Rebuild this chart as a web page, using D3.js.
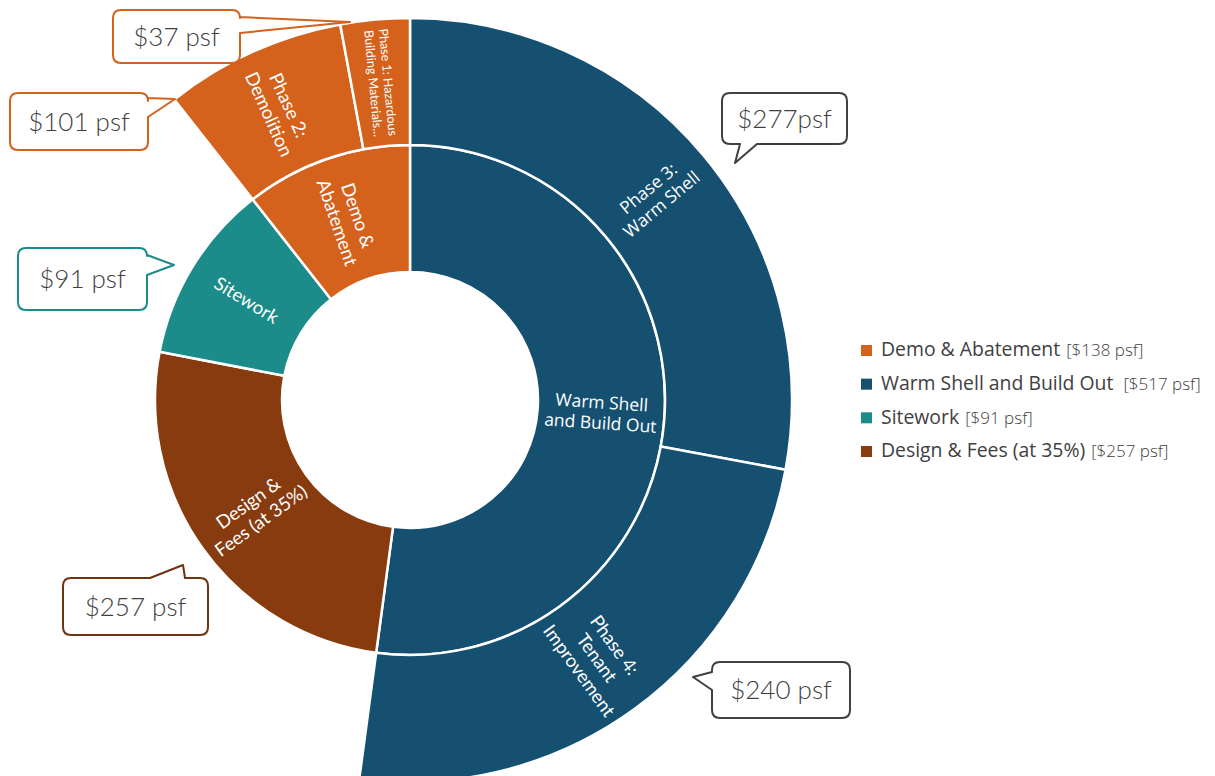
<!DOCTYPE html>
<html>
<head>
<meta charset="utf-8">
<script src="https://cdn.jsdelivr.net/npm/d3@7"></script>
<style>
  html, body { margin: 0; padding: 0; background: #ffffff; }
  svg { display: block; }
</style>
</head>
<body>
<svg id="chart" width="1215" height="776"></svg>
<script>
// ---------------- DATA ----------------
const categories = ["Warm Shell and Build Out", "Design & Fees (at 35%)", "Sitework", "Demo & Abatement"];
// values for categories without sub-phases (read from arc sizes)
const categoryValues = [null, 257, 113, null];
const phases = ["Phase 3: Warm Shell", "Phase 4: Tenant Improvement", "Phase 2: Demolition", "Phase 1: Hazardous Building Materials"];
const phaseParent = ["Warm Shell and Build Out", "Warm Shell and Build Out", "Demo & Abatement", "Demo & Abatement"];
const phaseValues = [277, 240, 76, 29];

// wrapped labels shown inside the arcs
const segmentLabelLines = {
  "Warm Shell and Build Out": ["Warm Shell", "and Build Out"],
  "Design & Fees (at 35%)": ["Design &", "Fees (at 35%)"],
  "Sitework": ["Sitework"],
  "Demo & Abatement": ["Demo &", "Abatement"],
  "Phase 3: Warm Shell": ["Phase 3:", "Warm Shell"],
  "Phase 4: Tenant Improvement": ["Phase 4:", "Tenant", "Improvement"],
  "Phase 2: Demolition": ["Phase 2:", "Demolition"],
  "Phase 1: Hazardous Building Materials": ["Phase 1: Hazardous", "Building Materials..."]
};

// legend
const legendNames = ["Demo & Abatement", "Warm Shell and Build Out", "Sitework", "Design & Fees (at 35%)"];
const legendAmounts = ["[$138 psf]", "[$517 psf]", "[$91 psf]", "[$257 psf]"];

// callout annotations
const calloutTexts = ["$37 psf", "$101 psf", "$277psf", "$91 psf", "$257 psf", "$240 psf"];
const calloutTargets = ["Phase 1: Hazardous Building Materials", "Phase 2: Demolition", "Phase 3: Warm Shell", "Sitework", "Design & Fees (at 35%)", "Phase 4: Tenant Improvement"];

// ---------------- STYLE / LAYOUT ----------------
const W = 1215, H = 776;
const cx = 410, cy = 400;
const colors = {
  "Demo & Abatement": "#d4621d",
  "Warm Shell and Build Out": "#165071",
  "Sitework": "#1b8c89",
  "Design & Fees (at 35%)": "#873b0f"
};
const calloutBorder = {
  "Demo & Abatement": "#d4621d",
  "Warm Shell and Build Out": "#404040",
  "Sitework": "#1b8c89",
  "Design & Fees (at 35%)": "#6e3310"
};
const segoeStyle = new Set(["Warm Shell and Build Out", "Phase 3: Warm Shell"]);
const labelSize = {
  "Phase 1: Hazardous Building Materials": 12.5
};

// callout box geometry: [x, y, w, h], tail side, tail base offsets, tail tip
const calloutLayout = [
  { box: [113, 10, 127, 53], side: "right", a1: 7, a2: 23, tip: [350, 22] },
  { box: [10, 93, 138, 57], side: "right", a1: 5, a2: 24, tip: [175, 99] },
  { box: [722, 93, 125, 51], side: "bottom", a1: 18, a2: 35, tip: [735, 163] },
  { box: [18, 248, 129, 62], side: "right", a1: 7, a2: 27, tip: [174, 265] },
  { box: [63, 578, 145, 57], side: "top", a1: 87, a2: 122, tip: [183, 565] },
  { box: [712, 662, 138, 56], side: "left", a1: 10, a2: 28, tip: [693, 677] }
];

// ---------------- BUILD HIERARCHY ----------------
const treeData = {
  name: "root",
  children: categories.map((c, i) => {
    const kids = phases
      .map((p, j) => ({ name: p, value: phaseValues[j], parent: phaseParent[j] }))
      .filter(p => p.parent === c)
      .map(p => ({ name: p.name, value: p.value }));
    return kids.length ? { name: c, children: kids } : { name: c, value: categoryValues[i] };
  })
};

const root = d3.hierarchy(treeData).sum(d => d.value || 0);
d3.partition().size([2 * Math.PI, 3])(root);

const radius = d3.scaleLinear().domain([1, 2, 3]).range([128, 255, 382]);

const arc = d3.arc()
  .startAngle(d => d.x0)
  .endAngle(d => d.x1)
  .innerRadius(d => radius(d.y0))
  .outerRadius(d => radius(d.y1));

const svg = d3.select("#chart");
svg.append("rect").attr("width", W).attr("height", H).attr("fill", "#ffffff");

const g = svg.append("g").attr("transform", `translate(${cx},${cy})`);

const nodes = root.descendants().filter(d => d.depth > 0);
const catOf = d => (d.depth === 1 ? d.data.name : d.parent.data.name);

g.selectAll("path.seg")
  .data(nodes)
  .join("path")
  .attr("class", "seg")
  .attr("d", arc)
  .attr("fill", d => colors[catOf(d)])
  .attr("stroke", "#ffffff")
  .attr("stroke-width", 2.5)
  .attr("stroke-linejoin", "round");

// labels
const labels = g.selectAll("g.lbl")
  .data(nodes)
  .join("g")
  .attr("class", "lbl")
  .attr("transform", d => {
    const a = (d.x0 + d.x1) / 2;
    const deg = a * 180 / Math.PI;
    const r = (radius(d.y0) + radius(d.y1)) / 2;
    const x = r * Math.sin(a), y = -r * Math.cos(a);
    const rot = deg < 180 ? deg - 90 : deg + 90;
    return `translate(${x},${y}) rotate(${rot})`;
  });

labels.each(function (d) {
  const lines = segmentLabelLines[d.data.name] || [d.data.name];
  const isSegoe = segoeStyle.has(d.data.name);
  const fs = labelSize[d.data.name] || (isSegoe ? 17.5 : 18.5);
  const lh = fs * 1.18;
  const t = d3.select(this).append("text")
    .attr("text-anchor", "middle")
    .attr("fill", "#ffffff")
    .attr("font-family", isSegoe ? "'Open Sans', 'Noto Sans', sans-serif" : "Lato, 'Open Sans', sans-serif")
    .attr("font-size", fs);
  lines.forEach((ln, i) => {
    t.append("tspan")
      .attr("x", 0)
      .attr("y", (i - (lines.length - 1) / 2) * lh)
      .attr("dy", "0.35em")
      .text(ln);
  });
});

// ---------------- CALLOUTS ----------------
function calloutPath(L) {
  const [x, y, w, h] = L.box;
  const r = 8;
  const [tx, ty] = L.tip;
  const p = d3.path();
  p.moveTo(x + r, y);
  if (L.side === "top") { p.lineTo(x + L.a1, y); p.lineTo(tx, ty); p.lineTo(x + L.a2, y); }
  p.lineTo(x + w - r, y);
  p.quadraticCurveTo(x + w, y, x + w, y + r);
  if (L.side === "right") { p.lineTo(x + w, y + L.a1); p.lineTo(tx, ty); p.lineTo(x + w, y + L.a2); }
  p.lineTo(x + w, y + h - r);
  p.quadraticCurveTo(x + w, y + h, x + w - r, y + h);
  if (L.side === "bottom") { p.lineTo(x + L.a2, y + h); p.lineTo(tx, ty); p.lineTo(x + L.a1, y + h); }
  p.lineTo(x + r, y + h);
  p.quadraticCurveTo(x, y + h, x, y + h - r);
  if (L.side === "left") { p.lineTo(x, y + L.a2); p.lineTo(tx, ty); p.lineTo(x, y + L.a1); }
  p.lineTo(x, y + r);
  p.quadraticCurveTo(x, y, x + r, y);
  p.closePath();
  return p.toString();
}

const nodeByName = new Map(nodes.map(d => [d.data.name, d]));
const callouts = svg.append("g").selectAll("g.callout")
  .data(calloutTexts.map((t, i) => ({ text: t, target: calloutTargets[i], layout: calloutLayout[i] })))
  .join("g")
  .attr("class", "callout");

callouts.append("path")
  .attr("d", d => calloutPath(d.layout))
  .attr("fill", "#ffffff")
  .attr("stroke", d => calloutBorder[catOf(nodeByName.get(d.target))])
  .attr("stroke-width", 2)
  .attr("stroke-linejoin", "round");

callouts.append("text")
  .attr("x", d => d.layout.box[0] + d.layout.box[2] / 2)
  .attr("y", d => d.layout.box[1] + d.layout.box[3] / 2)
  .attr("dy", "0.36em")
  .attr("text-anchor", "middle")
  .attr("font-family", "Lato, 'Open Sans', sans-serif")
  .attr("font-size", 26)
  .attr("font-weight", 300)
  .attr("fill", "#404040")
  .text(d => d.text);

// ---------------- LEGEND ----------------
const legendY = d3.scalePoint().domain(legendNames).range([351, 452]);
const legend = svg.append("g").selectAll("g.leg")
  .data(legendNames)
  .join("g")
  .attr("class", "leg")
  .attr("transform", d => `translate(861,${legendY(d)})`);

legend.append("rect")
  .attr("x", 0).attr("y", -6)
  .attr("width", 11).attr("height", 11)
  .attr("fill", d => colors[d]);

const lt = legend.append("text")
  .attr("x", 20)
  .attr("y", 0)
  .attr("dy", "0.33em")
  .attr("fill", "#404040")
  .attr("font-family", "'Open Sans', 'Noto Sans', sans-serif");

lt.append("tspan").attr("font-size", 19.4).text(d => d);
lt.append("tspan")
  .attr("dx", (d, i) => (i === 1 ? 10 : 6))
  .attr("font-size", 17)
  .attr("font-weight", 300)
  .attr("fill", "#404040")
  .text((d, i) => legendAmounts[i]);
</script>
</body>
</html>
